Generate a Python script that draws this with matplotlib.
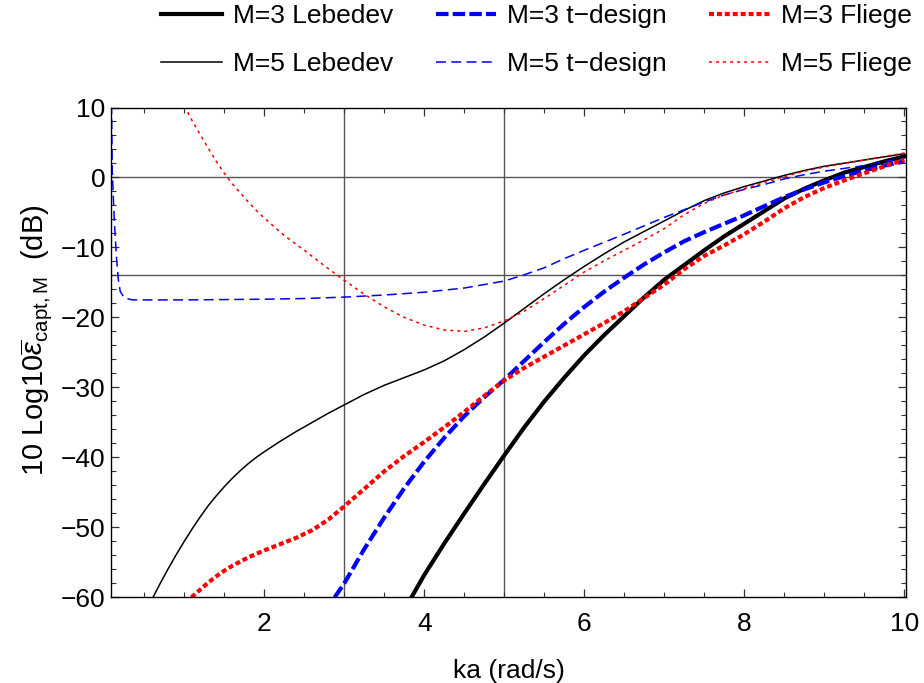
import numpy as np
import matplotlib
matplotlib.use("Agg")
import matplotlib.pyplot as plt

plt.rcParams['font.family'] = ['Liberation Sans', 'DejaVu Sans']
plt.rcParams['mathtext.fontset'] = 'custom'
plt.rcParams['mathtext.rm'] = 'Liberation Sans'
plt.rcParams['mathtext.it'] = 'Liberation Sans:italic'

# values (ka, dB)
leb3_x = [3.84, 4.0, 4.25, 4.5, 4.75, 5.0, 5.25, 5.5, 5.75, 6.0, 6.25, 6.5, 6.75, 7.0,
          7.25, 7.5, 7.75, 8.0, 8.25, 8.5, 8.75, 9.0, 9.25, 9.5, 9.75, 10.0]
leb3_y = [-60, -56.8, -52.3, -48.0, -43.8, -39.7, -35.7, -32.0, -28.6, -25.4, -22.5, -19.8, -17.1, -14.6,
          -12.5, -10.4, -8.4, -6.6, -4.8, -3.0, -1.6, -0.4, 0.7, 1.5, 2.3, 3.0]

leb5_x = [0.61, 0.7, 0.8, 0.9, 1.0, 1.1, 1.2, 1.3, 1.4, 1.5, 1.6, 1.7, 1.8, 1.9, 2.0, 2.2,
          2.4, 2.6, 2.8, 3.0, 3.25, 3.5, 3.75, 4.0, 4.25, 4.5, 4.75, 5.0, 5.25, 5.5, 5.75,
          6.0, 6.25, 6.5, 6.75, 7.0, 7.25, 7.5, 7.75, 8.0, 8.25, 8.5, 8.75, 9.0, 9.5, 10.0]
leb5_y = [-60, -58.0, -55.9, -53.9, -52.0, -50.2, -48.5, -46.9, -45.5, -44.2, -43.0, -41.9, -40.9, -40.0, -39.2, -37.7,
          -36.3, -35.0, -33.7, -32.5, -31.0, -29.7, -28.6, -27.5, -26.2, -24.6, -22.8, -20.8, -18.7, -16.6, -14.6,
          -12.7, -10.9, -9.2, -7.7, -6.2, -4.7, -3.3, -2.2, -1.3, -0.5, 0.3, 1.0, 1.6, 2.5, 3.4]

td3_x = [2.88, 3.0, 3.25, 3.5, 3.75, 4.0, 4.25, 4.5, 4.75, 5.0, 5.25, 5.5, 5.75, 6.0, 6.25, 6.5,
         6.75, 7.0, 7.25, 7.5, 7.75, 8.0, 8.25, 8.5, 8.75, 9.0, 9.25, 9.5, 9.75, 10.0]
td3_y = [-60, -58.0, -53.1, -48.6, -44.4, -40.6, -37.2, -34.1, -31.4, -28.9, -26.2, -23.5, -20.9, -18.5, -16.3, -14.3,
         -12.4, -10.7, -9.1, -7.8, -6.6, -5.4, -4.1, -2.8, -1.7, -0.7, 0.2, 1.0, 1.7, 2.3]

td5_x = [0.09, 0.1, 0.125, 0.15, 0.175, 0.2, 0.25, 0.35, 1.0, 2.0, 2.5, 3.0, 3.5, 4.0, 4.5, 5.0,
         5.25, 5.5, 5.75, 6.0, 6.5, 7.0, 7.25, 7.5, 7.75, 8.0, 8.25, 8.5, 8.75, 9.0, 9.5, 10.0]
td5_y = [10.5, 1.0, -6.0, -11.0, -14.5, -16.3, -17.2, -17.5, -17.5, -17.4, -17.3, -17.1, -16.8, -16.4, -15.8, -14.8,
         -13.9, -12.9, -11.6, -10.4, -8.1, -5.7, -4.6, -3.5, -2.5, -1.7, -1.0, -0.2, 0.4, 0.9, 1.7, 2.8]

fl3_x = [1.09, 1.2, 1.3, 1.4, 1.5, 1.6, 1.8, 2.0, 2.2, 2.4, 2.6, 2.8, 3.0, 3.25, 3.5, 3.75,
         4.0, 4.25, 4.5, 4.75, 5.0, 5.25, 5.5, 5.75, 6.0, 6.25, 6.5, 6.75, 7.0, 7.25, 7.5, 7.75,
         8.0, 8.25, 8.5, 8.75, 9.0, 9.25, 9.5, 9.75, 10.0]
fl3_y = [-60, -58.9, -57.9, -57.0, -56.2, -55.5, -54.3, -53.3, -52.4, -51.5, -50.4, -48.9, -47.0, -44.5, -42.0, -39.8,
         -37.8, -35.7, -33.5, -31.2, -29.0, -27.2, -25.6, -24.0, -22.4, -20.8, -19.1, -17.2, -15.3, -13.1, -11.2, -9.7,
         -8.1, -6.3, -4.4, -2.8, -1.5, -0.4, 0.6, 1.6, 2.5]

fl5_x = [1.0, 1.1, 1.2, 1.3, 1.4, 1.5, 1.6, 1.7, 1.8, 1.9, 2.0, 2.25, 2.5, 2.75, 3.0, 3.25,
         3.5, 3.75, 4.0, 4.25, 4.5, 4.75, 5.0, 5.25, 5.5, 5.75, 6.0, 6.25, 6.5, 6.75, 7.0, 7.25,
         7.5, 7.75, 8.0, 8.25, 8.5, 8.75, 9.0, 9.5, 10.0]
fl5_y = [10.2, 8.1, 6.1, 4.2, 2.3, 0.6, -0.9, -2.2, -3.5, -4.7, -5.8, -8.3, -10.4, -12.6, -14.7, -16.7,
         -18.5, -20.0, -21.1, -21.8, -22.0, -21.5, -20.5, -19.1, -17.3, -15.4, -13.5, -11.9, -10.4, -8.9, -7.3, -5.3,
         -3.7, -2.5, -1.6, -0.7, 0.1, 0.9, 1.5, 2.5, 3.5]

ref_x = [3, 5]
ref_y = [0, -14]

fs = 19

fig = plt.figure(figsize=(9.24, 6.83), dpi=100)
ax = fig.add_axes([0.1201, 0.1255, 0.8604, 0.7171])

for v in ref_x:
    ax.axvline(v, color='#555555', lw=1.0, zorder=1)
for v in ref_y:
    ax.axhline(v, color='#555555', lw=1.0, zorder=1)

h1, = ax.plot(leb3_x, leb3_y, color='black', lw=3.0, label='M=3 Lebedev')
h2, = ax.plot(leb5_x, leb5_y, color='black', lw=1.1, label='M=5 Lebedev')
h3, = ax.plot(td3_x, td3_y, color='blue', lw=3.0, dashes=(3.0, 1.0), label='M=3 t\u2212design')
h4, = ax.plot(td5_x, td5_y, color='blue', lw=1.1, dashes=(6.5, 3.5), label='M=5 t\u2212design')
h5, = ax.plot(fl3_x, fl3_y, color='red', lw=3.0, dashes=(1.2, 0.7), label='M=3 Fliege')
h6, = ax.plot(fl5_x, fl5_y, color='red', lw=1.1, dashes=(2.0, 2.6), label='M=5 Fliege')

ax.set_xlim(0.084, 10.02)
ax.set_ylim(-60, 10)
ax.set_xticks([2, 4, 6, 8, 10])
ax.set_xticks(np.arange(0.5, 10.01, 0.5), minor=True)
ax.set_yticks(np.arange(-60, 11, 10))
ax.set_yticks(np.arange(-60, 11, 2), minor=True)
ax.set_yticklabels(['\u221260', '\u221250', '\u221240', '\u221230', '\u221220', '\u221210', '0', '10'])
ax.tick_params(which='both', direction='in', top=True, right=True, labelsize=fs, color='#333333')
ax.tick_params(which='major', length=5.5, width=0.9)
ax.tick_params(which='minor', length=3.5, width=0.8)
ax.tick_params(axis='x', which='major', pad=10.5)
ax.tick_params(axis='y', which='major', pad=4)
for s in ax.spines.values():
    s.set_linewidth(1.0)

ax.set_xlabel('ka (rad/s)', fontsize=fs, labelpad=17)
ax.set_ylabel(r'10 Log10$\overline{\epsilon}_{\mathrm{capt,M}}$  (dB)', fontsize=21, labelpad=5)
ax.yaxis.set_label_coords(-0.072, 0.525)

fig.legend([h1, h2, h3, h4, h5, h6],
           [h.get_label() for h in (h1, h2, h3, h4, h5, h6)],
           ncol=3, loc='upper right', bbox_to_anchor=(0.987, 0.994), frameon=False,
           borderpad=0, borderaxespad=0,
           fontsize=fs, handlelength=2.3, handletextpad=0.42, columnspacing=1.6,
           labelspacing=0.9)

fig.savefig('out.png', dpi=100)
